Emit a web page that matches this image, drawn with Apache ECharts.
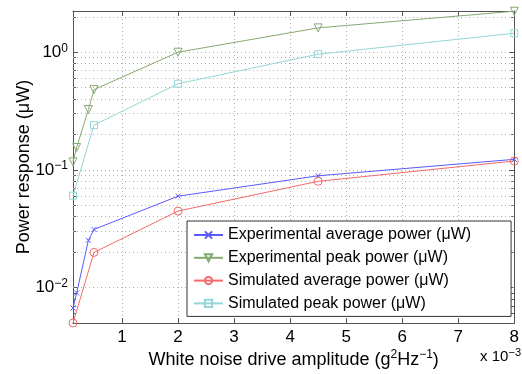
<!DOCTYPE html>
<html>
<head>
<meta charset="utf-8">
<script src="https://cdn.jsdelivr.net/npm/echarts@6/dist/echarts.min.js"></script>
<style>
  html, body { margin: 0; padding: 0; background: #fff; }
  #chart { width: 522px; height: 374px; }
</style>
</head>
<body>
<div id="chart"></div>
<script>
// x values (x 10^-3 g^2/Hz)
const expX = [0.125, 0.19, 0.4, 0.5, 2, 4.5, 8]
const simX = [0.125, 0.5, 2, 4.5, 8]
// power values (uW)
const expAvg = [0.0067, 0.0090, 0.0252, 0.0312, 0.0598, 0.0891, 0.123]
const expPeak = [0.117, 0.155, 0.326, 0.481, 1.0, 1.61, 2.23]
const simAvg = [0.005, 0.0199, 0.0447, 0.080, 0.119]
const simPeak = [0.0604, 0.240, 0.540, 0.962, 1.45]
const xTicks = [1, 2, 3, 4, 5, 6, 7, 8]
const yMinor = [0.006, 0.007, 0.008, 0.009, 0.02, 0.03, 0.04, 0.05, 0.06, 0.07, 0.08, 0.09,
  0.2, 0.3, 0.4, 0.5, 0.6, 0.7, 0.8, 0.9, 2]

const FONT = 'Helvetica, "Liberation Sans", Arial, sans-serif'
const AXIS_COLOR = '#555'
const GRID_STYLE = { color: '#b0b0b0', width: 1, type: [1, 3] }

const pairs = (xs, ys) => xs.map((x, i) => [x, ys[i]])

const isPow10 = (v) => {
  const l = Math.log10(v)
  return Math.abs(l - Math.round(l)) < 1e-6
}

const yLabelRich = {
  b: { fontSize: 17, fontFamily: FONT, color: '#000', lineHeight: 20 },
  s: { fontSize: 12, fontFamily: FONT, color: '#000', verticalAlign: 'top' }
}

const makeSeries = (name, xs, ys, color, symbol, size, rotate) => ({
  name: name,
  type: 'line',
  data: pairs(xs, ys),
  symbol: symbol,
  symbolSize: size,
  symbolRotate: rotate || 0,
  lineStyle: { color: color, width: 1 },
  itemStyle: { color: 'rgba(255,255,255,0)', borderColor: color, borderWidth: 1 },
  emphasis: { disabled: true },
  z: 3
})

const renderChart = () => {
  const chart = echarts.init(document.getElementById('chart'), null, { renderer: 'canvas' })

  const series = [
    makeSeries('Experimental average power (\u03bcW)', expX, expAvg, '#5a5aff', 'path://M0,0L10,10M10,0L0,10', 5),
    makeSeries('Experimental peak power (\u03bcW)', expX, expPeak, '#86a972', 'triangle', 8, 180),
    makeSeries('Simulated average power (\u03bcW)', simX, simAvg, '#f26a6a', 'circle', 8),
    makeSeries('Simulated peak power (\u03bcW)', simX, simPeak, '#95d6d6', 'rect', 7)
  ]
  // minor horizontal grid lines at 2..9 x 10^k
  series[0].markLine = {
    silent: true,
    symbol: ['none', 'none'],
    label: { show: false },
    lineStyle: GRID_STYLE,
    animation: false,
    z: 1,
    data: yMinor.map(v => ({ yAxis: v }))
  }

  const option = {
    animation: false,
    backgroundColor: '#fff',
    grid: { left: 73, right: 4, top: 11, bottom: 49 },
    xAxis: [{
      type: 'value',
      min: 0.125,
      max: 8,
      splitNumber: 8,
      position: 'bottom',
      name: '{a|White noise drive amplitude (g}{s|2}{a|Hz}{s|\u22121}{a|)}',
      nameLocation: 'middle',
      nameGap: 26,
      nameMoveOverlap: false,
      nameTextStyle: {
        rich: {
          a: { fontSize: 18, fontFamily: FONT, color: '#000', lineHeight: 22 },
          s: { fontSize: 12, fontFamily: FONT, color: '#000', verticalAlign: 'top' }
        }
      },
      axisLine: { show: true, onZero: false, lineStyle: { color: AXIS_COLOR, width: 1 } },
      axisTick: { show: true, inside: true, length: 5, lineStyle: { color: AXIS_COLOR } },
      axisLabel: {
        margin: 6,
        fontSize: 17,
        fontFamily: FONT,
        color: '#000',
        formatter: (v) => (xTicks.includes(v) ? String(v) : '')
      },
      splitLine: { show: true, lineStyle: GRID_STYLE }
    }, {
      type: 'value',
      min: 0.125,
      max: 8,
      splitNumber: 8,
      position: 'top',
      axisLine: { show: true, onZero: false, lineStyle: { color: AXIS_COLOR, width: 1 } },
      axisTick: { show: true, inside: true, length: 5, lineStyle: { color: AXIS_COLOR } },
      axisLabel: { show: false },
      splitLine: { show: false }
    }],
    yAxis: [{
      type: 'log',
      logBase: 10,
      min: 0.005,
      max: 2.24,
      position: 'left',
      name: 'Power response (\u03bcW)',
      nameLocation: 'middle',
      nameGap: 40,
      nameMoveOverlap: false,
      nameTextStyle: { fontSize: 18, fontFamily: FONT, color: '#000' },
      axisLine: { show: true, onZero: false, lineStyle: { color: AXIS_COLOR, width: 1 } },
      axisTick: { show: true, inside: true, length: 5, lineStyle: { color: AXIS_COLOR } },
      axisLabel: {
        margin: 5,
        rich: yLabelRich,
        formatter: (v) => {
          if (!isPow10(v)) return ''
          const e = Math.round(Math.log10(v))
          return '{b|10}{s|' + String(e).replace('-', '\u2212') + '}'
        }
      },
      splitLine: { show: true, lineStyle: GRID_STYLE }
    }, {
      type: 'log',
      logBase: 10,
      min: 0.005,
      max: 2.24,
      position: 'right',
      axisLine: { show: true, onZero: false, lineStyle: { color: AXIS_COLOR, width: 1 } },
      axisTick: { show: true, inside: true, length: 5, lineStyle: { color: AXIS_COLOR } },
      axisLabel: { show: false },
      splitLine: { show: false }
    }, {
      type: 'log',
      logBase: 10,
      min: 0.005,
      max: 2.24,
      position: 'left',
      axisLine: { show: false },
      axisTick: { show: true, inside: true, length: 3, customValues: yMinor, lineStyle: { color: AXIS_COLOR } },
      axisLabel: { show: false },
      splitLine: { show: false }
    }, {
      type: 'log',
      logBase: 10,
      min: 0.005,
      max: 2.24,
      position: 'right',
      axisLine: { show: false },
      axisTick: { show: true, inside: true, length: 3, customValues: yMinor, lineStyle: { color: AXIS_COLOR } },
      axisLabel: { show: false },
      splitLine: { show: false }
    }],
    legend: {
      orient: 'vertical',
      left: 187,
      top: 221,
      backgroundColor: '#fff',
      borderColor: '#333',
      borderWidth: 1,
      borderRadius: 0,
      padding: [6, 40, 5, 6],
      itemGap: 6.8,
      itemWidth: 29,
      itemHeight: 9,
      selectedMode: false,
      textStyle: { fontSize: 16, fontFamily: FONT, color: '#000', lineHeight: 16 }
    },
    graphic: [{
      type: 'text',
      right: 1,
      top: 347,
      silent: true,
      style: {
        text: '{a|x 10}{s|\u22123}',
        rich: {
          a: { fontSize: 15, fontFamily: FONT, fill: '#000', lineHeight: 20 },
          s: { fontSize: 11, fontFamily: FONT, fill: '#000', verticalAlign: 'top' }
        }
      }
    }],
    series: series
  }

  chart.setOption(option)
}

document.addEventListener('DOMContentLoaded', function () {
  renderChart()
})
</script>
</body>
</html>
